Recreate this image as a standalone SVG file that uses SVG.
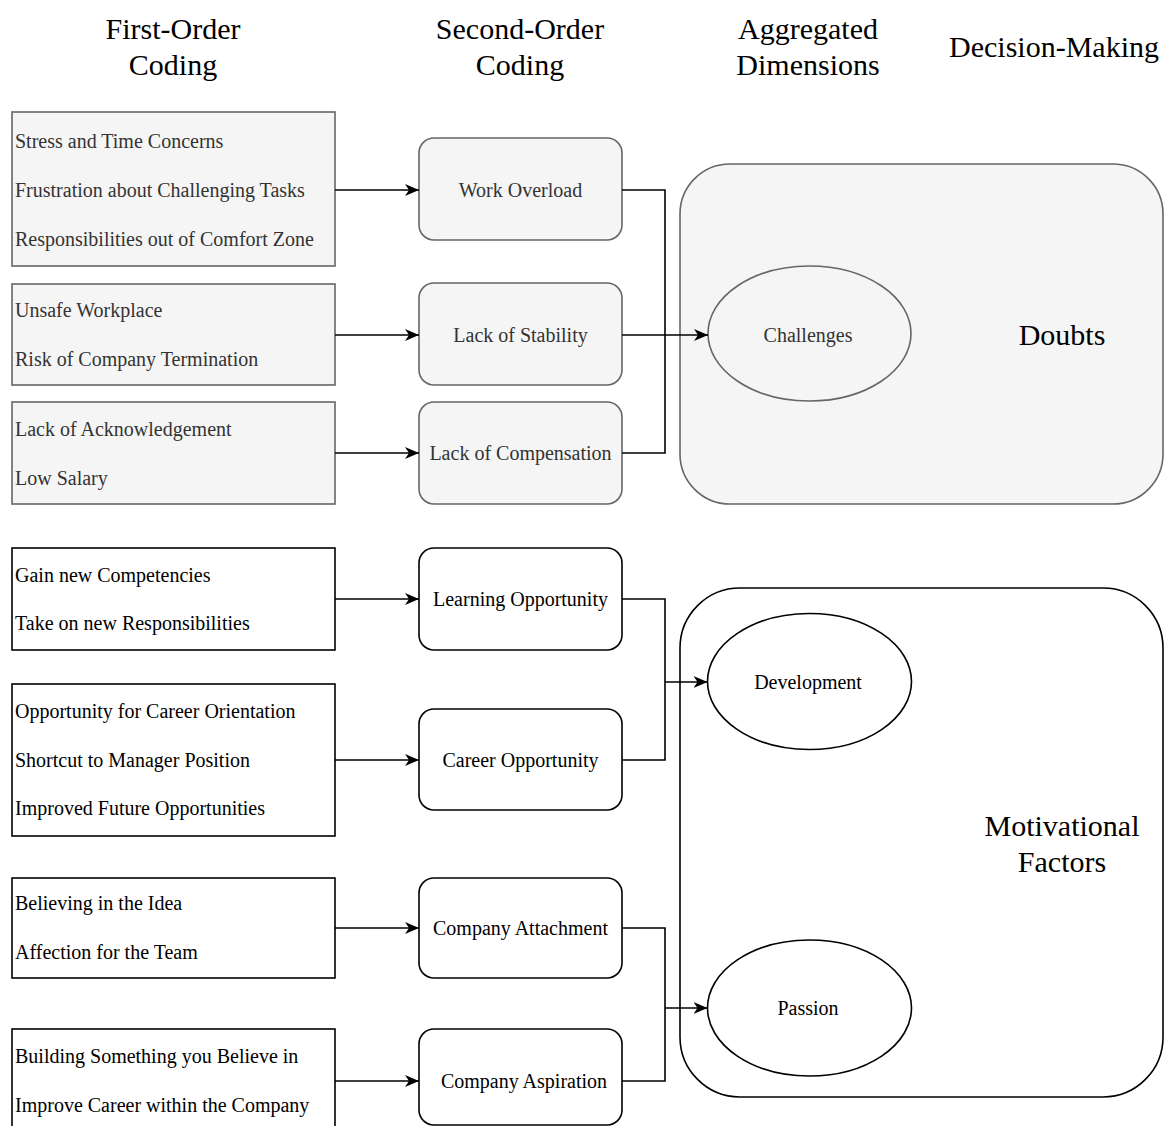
<svg xmlns="http://www.w3.org/2000/svg" width="1164" height="1126" viewBox="0 0 1164 1126">
<style>
  text { font-family: "Liberation Serif", "Times New Roman", serif; }
  .hdr { font-size: 30px; fill: #000; text-anchor: middle; }
  .big { font-size: 30px; fill: #000; text-anchor: middle; }
  .t { font-size: 20px; }
  .tg { fill: #333333; }
  .tb { fill: #000000; }
  .mid { text-anchor: middle; }
  .gray { fill: #f5f5f5; stroke: #666666; stroke-width: 1.6; }
  .white { fill: #ffffff; stroke: #000000; stroke-width: 1.6; }
  .conn { fill: none; stroke: #000000; stroke-width: 1.6; }
</style>
<defs>
  <marker id="arr" viewBox="0 0 14 12" refX="14" refY="6" markerWidth="14" markerHeight="12" markerUnits="userSpaceOnUse" orient="auto">
    <path d="M0,0 L14,6 L0,12 L4,6 Z" fill="#000"/>
  </marker>
</defs>
<rect width="1164" height="1126" fill="#ffffff"/>

<g id="headers">
  <text class="hdr" x="173" y="39">First-Order</text>
  <text class="hdr" x="173" y="75">Coding</text>
  <text class="hdr" x="520" y="39">Second-Order</text>
  <text class="hdr" x="520" y="75">Coding</text>
  <text class="hdr" x="808" y="39">Aggregated</text>
  <text class="hdr" x="808" y="75">Dimensions</text>
  <text class="hdr" x="1054" y="57">Decision-Making</text>
</g>

<g id="doubts">
  <rect class="gray" x="680" y="164" width="483" height="340" rx="50" ry="50"/>
  <text class="big" x="1062" y="345">Doubts</text>
</g>
<g id="motivational-factors">
  <rect class="white" x="680" y="588" width="483" height="509" rx="60" ry="60"/>
  <text class="big" x="1062" y="836">Motivational</text>
  <text class="big" x="1062" y="872">Factors</text>
</g>

<g id="fo-workload">
  <rect class="gray" x="12" y="112" width="323" height="154"/>
  <text class="t tg" x="15" y="148">Stress and Time Concerns</text>
  <text class="t tg" x="15" y="197">Frustration about Challenging Tasks</text>
  <text class="t tg" x="15" y="246">Responsibilities out of Comfort Zone</text>
</g>
<g id="fo-stability">
  <rect class="gray" x="12" y="284" width="323" height="101"/>
  <text class="t tg" x="15" y="317">Unsafe Workplace</text>
  <text class="t tg" x="15" y="366">Risk of Company Termination</text>
</g>
<g id="fo-compensation">
  <rect class="gray" x="12" y="402" width="323" height="102"/>
  <text class="t tg" x="15" y="436">Lack of Acknowledgement</text>
  <text class="t tg" x="15" y="485">Low Salary</text>
</g>
<g id="fo-learning">
  <rect class="white" x="12" y="548" width="323" height="102"/>
  <text class="t tb" x="15" y="582">Gain new Competencies</text>
  <text class="t tb" x="15" y="630">Take on new Responsibilities</text>
</g>
<g id="fo-career">
  <rect class="white" x="12" y="684" width="323" height="152"/>
  <text class="t tb" x="15" y="718">Opportunity for Career Orientation</text>
  <text class="t tb" x="15" y="767">Shortcut to Manager Position</text>
  <text class="t tb" x="15" y="815">Improved Future Opportunities</text>
</g>
<g id="fo-attachment">
  <rect class="white" x="12" y="878" width="323" height="100"/>
  <text class="t tb" x="15" y="910">Believing in the Idea</text>
  <text class="t tb" x="15" y="959">Affection for the Team</text>
</g>
<g id="fo-aspiration">
  <rect class="white" x="12" y="1029" width="323" height="110"/>
  <text class="t tb" x="15" y="1063">Building Something you Believe in</text>
  <text class="t tb" x="15" y="1112">Improve Career within the Company</text>
</g>

<g id="so-work-overload">
  <rect class="gray" x="419" y="138" width="203" height="102" rx="15" ry="15"/>
  <text class="t tg mid" x="520.5" y="197">Work Overload</text>
</g>
<g id="so-lack-stability">
  <rect class="gray" x="419" y="283" width="203" height="102" rx="15" ry="15"/>
  <text class="t tg mid" x="520.5" y="342">Lack of Stability</text>
</g>
<g id="so-lack-compensation">
  <rect class="gray" x="419" y="402" width="203" height="102" rx="15" ry="15"/>
  <text class="t tg mid" x="520.5" y="460">Lack of Compensation</text>
</g>
<g id="so-learning">
  <rect class="white" x="419" y="548" width="203" height="102" rx="15" ry="15"/>
  <text class="t tb mid" x="520.5" y="606">Learning Opportunity</text>
</g>
<g id="so-career">
  <rect class="white" x="419" y="709" width="203" height="101" rx="15" ry="15"/>
  <text class="t tb mid" x="520.5" y="767">Career Opportunity</text>
</g>
<g id="so-attachment">
  <rect class="white" x="419" y="878" width="203" height="100" rx="15" ry="15"/>
  <text class="t tb mid" x="520.5" y="935">Company Attachment</text>
</g>
<g id="so-aspiration">
  <rect class="white" x="419" y="1029" width="203" height="96" rx="15" ry="15"/>
  <text class="t tb mid" x="524" y="1088">Company Aspiration</text>
</g>

<g id="challenges">
  <ellipse class="gray" cx="809.5" cy="333.5" rx="101.5" ry="67.5"/>
  <text class="t tg mid" x="808" y="342">Challenges</text>
</g>
<g id="development">
  <ellipse class="white" cx="809.5" cy="681.5" rx="102" ry="68"/>
  <text class="t tb mid" x="808" y="689">Development</text>
</g>
<g id="passion">
  <ellipse class="white" cx="809.5" cy="1008" rx="102" ry="68"/>
  <text class="t tb mid" x="808" y="1015">Passion</text>
</g>

<g id="connectors">
  <path class="conn" d="M335,190 H419" marker-end="url(#arr)"/>
  <path class="conn" d="M335,335 H419" marker-end="url(#arr)"/>
  <path class="conn" d="M335,453 H419" marker-end="url(#arr)"/>
  <path class="conn" d="M335,599 H419" marker-end="url(#arr)"/>
  <path class="conn" d="M335,760 H419" marker-end="url(#arr)"/>
  <path class="conn" d="M335,928 H419" marker-end="url(#arr)"/>
  <path class="conn" d="M335,1081 H419" marker-end="url(#arr)"/>

  <path class="conn" d="M622,190 H665 V453 H622"/>
  <path class="conn" d="M622,335 H708" marker-end="url(#arr)"/>

  <path class="conn" d="M622,599 H665 V760 H622"/>
  <path class="conn" d="M665,682 H707.5" marker-end="url(#arr)"/>

  <path class="conn" d="M622,928 H665 V1081 H622"/>
  <path class="conn" d="M665,1008 H707.5" marker-end="url(#arr)"/>
</g>
</svg>
